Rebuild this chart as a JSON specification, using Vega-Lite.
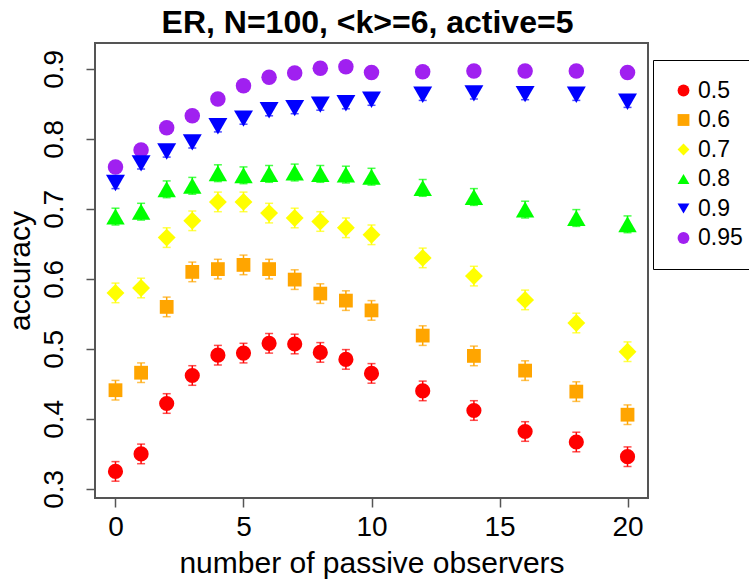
{
  "$schema": "https://vega.github.io/schema/vega-lite/v6.json",
  "autosize": "none",
  "width": 553,
  "height": 455,
  "padding": {"left": 95, "top": 43, "right": 101, "bottom": 81},
  "background": "white",
  "title": {
    "text": "ER, N=100, <k>=6, active=5",
    "fontSize": 32,
    "fontWeight": "bold",
    "font": "Liberation Sans",
    "color": "black",
    "anchor": "middle",
    "frame": "group",
    "baseline": "alphabetic",
    "offset": 10,
    "dx": -4,
    "dy": 32
  },
  "config": {
    "font": "Liberation Sans",
    "view": {"stroke": "#555555", "strokeWidth": 2},
    "axis": {
      "grid": false,
      "domain": false,
      "tickColor": "#555555",
      "tickWidth": 1.5,
      "tickSize": 9,
      "labelColor": "black",
      "titleColor": "black",
      "labelFont": "Liberation Sans",
      "titleFont": "Liberation Sans",
      "labelFontSize": 28,
      "titleFontSize": 30,
      "titleFontWeight": "normal"
    },
    "legend": {
      "labelFont": "Liberation Sans",
      "labelFontSize": 23,
      "labelColor": "black"
    }
  },
  "data": {
    "values": [
      {"x": 0, "p": "0.95", "acc": 0.760, "lo": 0.756, "hi": 0.764},
      {"x": 1, "p": "0.95", "acc": 0.784, "lo": 0.780, "hi": 0.788},
      {"x": 2, "p": "0.95", "acc": 0.816, "lo": 0.812, "hi": 0.820},
      {"x": 3, "p": "0.95", "acc": 0.833, "lo": 0.829, "hi": 0.837},
      {"x": 4, "p": "0.95", "acc": 0.857, "lo": 0.853, "hi": 0.861},
      {"x": 5, "p": "0.95", "acc": 0.876, "lo": 0.872, "hi": 0.880},
      {"x": 6, "p": "0.95", "acc": 0.888, "lo": 0.884, "hi": 0.892},
      {"x": 7, "p": "0.95", "acc": 0.894, "lo": 0.890, "hi": 0.898},
      {"x": 8, "p": "0.95", "acc": 0.901, "lo": 0.897, "hi": 0.905},
      {"x": 9, "p": "0.95", "acc": 0.903, "lo": 0.899, "hi": 0.907},
      {"x": 10, "p": "0.95", "acc": 0.895, "lo": 0.891, "hi": 0.899},
      {"x": 12, "p": "0.95", "acc": 0.896, "lo": 0.892, "hi": 0.900},
      {"x": 14, "p": "0.95", "acc": 0.897, "lo": 0.893, "hi": 0.901},
      {"x": 16, "p": "0.95", "acc": 0.897, "lo": 0.893, "hi": 0.901},
      {"x": 18, "p": "0.95", "acc": 0.897, "lo": 0.893, "hi": 0.901},
      {"x": 20, "p": "0.95", "acc": 0.895, "lo": 0.891, "hi": 0.899},

      {"x": 0, "p": "0.5", "acc": 0.325, "lo": 0.311, "hi": 0.339},
      {"x": 1, "p": "0.5", "acc": 0.350, "lo": 0.336, "hi": 0.364},
      {"x": 2, "p": "0.5", "acc": 0.422, "lo": 0.408, "hi": 0.436},
      {"x": 3, "p": "0.5", "acc": 0.462, "lo": 0.448, "hi": 0.476},
      {"x": 4, "p": "0.5", "acc": 0.491, "lo": 0.477, "hi": 0.505},
      {"x": 5, "p": "0.5", "acc": 0.494, "lo": 0.480, "hi": 0.508},
      {"x": 6, "p": "0.5", "acc": 0.508, "lo": 0.494, "hi": 0.522},
      {"x": 7, "p": "0.5", "acc": 0.507, "lo": 0.493, "hi": 0.521},
      {"x": 8, "p": "0.5", "acc": 0.495, "lo": 0.481, "hi": 0.509},
      {"x": 9, "p": "0.5", "acc": 0.485, "lo": 0.471, "hi": 0.499},
      {"x": 10, "p": "0.5", "acc": 0.465, "lo": 0.451, "hi": 0.479},
      {"x": 12, "p": "0.5", "acc": 0.440, "lo": 0.426, "hi": 0.454},
      {"x": 14, "p": "0.5", "acc": 0.412, "lo": 0.398, "hi": 0.426},
      {"x": 16, "p": "0.5", "acc": 0.382, "lo": 0.368, "hi": 0.396},
      {"x": 18, "p": "0.5", "acc": 0.367, "lo": 0.353, "hi": 0.381},
      {"x": 20, "p": "0.5", "acc": 0.346, "lo": 0.332, "hi": 0.360},

      {"x": 0, "p": "0.6", "acc": 0.441, "lo": 0.427, "hi": 0.455},
      {"x": 1, "p": "0.6", "acc": 0.466, "lo": 0.452, "hi": 0.480},
      {"x": 2, "p": "0.6", "acc": 0.560, "lo": 0.546, "hi": 0.574},
      {"x": 3, "p": "0.6", "acc": 0.610, "lo": 0.596, "hi": 0.624},
      {"x": 4, "p": "0.6", "acc": 0.614, "lo": 0.600, "hi": 0.628},
      {"x": 5, "p": "0.6", "acc": 0.620, "lo": 0.606, "hi": 0.634},
      {"x": 6, "p": "0.6", "acc": 0.614, "lo": 0.600, "hi": 0.628},
      {"x": 7, "p": "0.6", "acc": 0.599, "lo": 0.585, "hi": 0.613},
      {"x": 8, "p": "0.6", "acc": 0.579, "lo": 0.565, "hi": 0.593},
      {"x": 9, "p": "0.6", "acc": 0.569, "lo": 0.555, "hi": 0.583},
      {"x": 10, "p": "0.6", "acc": 0.555, "lo": 0.541, "hi": 0.569},
      {"x": 12, "p": "0.6", "acc": 0.519, "lo": 0.505, "hi": 0.533},
      {"x": 14, "p": "0.6", "acc": 0.490, "lo": 0.476, "hi": 0.504},
      {"x": 16, "p": "0.6", "acc": 0.469, "lo": 0.455, "hi": 0.483},
      {"x": 18, "p": "0.6", "acc": 0.439, "lo": 0.425, "hi": 0.453},
      {"x": 20, "p": "0.6", "acc": 0.406, "lo": 0.392, "hi": 0.420},

      {"x": 0, "p": "0.7", "acc": 0.580, "lo": 0.566, "hi": 0.594},
      {"x": 1, "p": "0.7", "acc": 0.587, "lo": 0.573, "hi": 0.601},
      {"x": 2, "p": "0.7", "acc": 0.659, "lo": 0.645, "hi": 0.673},
      {"x": 3, "p": "0.7", "acc": 0.683, "lo": 0.669, "hi": 0.697},
      {"x": 4, "p": "0.7", "acc": 0.710, "lo": 0.696, "hi": 0.724},
      {"x": 5, "p": "0.7", "acc": 0.710, "lo": 0.696, "hi": 0.724},
      {"x": 6, "p": "0.7", "acc": 0.694, "lo": 0.680, "hi": 0.708},
      {"x": 7, "p": "0.7", "acc": 0.687, "lo": 0.673, "hi": 0.701},
      {"x": 8, "p": "0.7", "acc": 0.682, "lo": 0.668, "hi": 0.696},
      {"x": 9, "p": "0.7", "acc": 0.673, "lo": 0.659, "hi": 0.687},
      {"x": 10, "p": "0.7", "acc": 0.663, "lo": 0.649, "hi": 0.677},
      {"x": 12, "p": "0.7", "acc": 0.630, "lo": 0.616, "hi": 0.644},
      {"x": 14, "p": "0.7", "acc": 0.604, "lo": 0.590, "hi": 0.618},
      {"x": 16, "p": "0.7", "acc": 0.570, "lo": 0.556, "hi": 0.584},
      {"x": 18, "p": "0.7", "acc": 0.537, "lo": 0.523, "hi": 0.551},
      {"x": 20, "p": "0.7", "acc": 0.496, "lo": 0.482, "hi": 0.510},

      {"x": 0, "p": "0.8", "acc": 0.689, "lo": 0.677, "hi": 0.701},
      {"x": 1, "p": "0.8", "acc": 0.696, "lo": 0.684, "hi": 0.708},
      {"x": 2, "p": "0.8", "acc": 0.728, "lo": 0.716, "hi": 0.740},
      {"x": 3, "p": "0.8", "acc": 0.733, "lo": 0.721, "hi": 0.745},
      {"x": 4, "p": "0.8", "acc": 0.751, "lo": 0.739, "hi": 0.763},
      {"x": 5, "p": "0.8", "acc": 0.748, "lo": 0.736, "hi": 0.760},
      {"x": 6, "p": "0.8", "acc": 0.750, "lo": 0.738, "hi": 0.762},
      {"x": 7, "p": "0.8", "acc": 0.752, "lo": 0.740, "hi": 0.764},
      {"x": 8, "p": "0.8", "acc": 0.750, "lo": 0.738, "hi": 0.762},
      {"x": 9, "p": "0.8", "acc": 0.749, "lo": 0.737, "hi": 0.761},
      {"x": 10, "p": "0.8", "acc": 0.746, "lo": 0.734, "hi": 0.758},
      {"x": 12, "p": "0.8", "acc": 0.730, "lo": 0.718, "hi": 0.742},
      {"x": 14, "p": "0.8", "acc": 0.717, "lo": 0.705, "hi": 0.729},
      {"x": 16, "p": "0.8", "acc": 0.699, "lo": 0.687, "hi": 0.711},
      {"x": 18, "p": "0.8", "acc": 0.687, "lo": 0.675, "hi": 0.699},
      {"x": 20, "p": "0.8", "acc": 0.678, "lo": 0.666, "hi": 0.690},

      {"x": 0, "p": "0.9", "acc": 0.737, "lo": 0.729, "hi": 0.745},
      {"x": 1, "p": "0.9", "acc": 0.765, "lo": 0.757, "hi": 0.773},
      {"x": 2, "p": "0.9", "acc": 0.782, "lo": 0.774, "hi": 0.790},
      {"x": 3, "p": "0.9", "acc": 0.795, "lo": 0.787, "hi": 0.803},
      {"x": 4, "p": "0.9", "acc": 0.818, "lo": 0.810, "hi": 0.826},
      {"x": 5, "p": "0.9", "acc": 0.829, "lo": 0.821, "hi": 0.837},
      {"x": 6, "p": "0.9", "acc": 0.841, "lo": 0.833, "hi": 0.849},
      {"x": 7, "p": "0.9", "acc": 0.844, "lo": 0.836, "hi": 0.852},
      {"x": 8, "p": "0.9", "acc": 0.849, "lo": 0.841, "hi": 0.857},
      {"x": 9, "p": "0.9", "acc": 0.851, "lo": 0.843, "hi": 0.859},
      {"x": 10, "p": "0.9", "acc": 0.856, "lo": 0.848, "hi": 0.864},
      {"x": 12, "p": "0.9", "acc": 0.863, "lo": 0.855, "hi": 0.871},
      {"x": 14, "p": "0.9", "acc": 0.865, "lo": 0.857, "hi": 0.873},
      {"x": 16, "p": "0.9", "acc": 0.864, "lo": 0.856, "hi": 0.872},
      {"x": 18, "p": "0.9", "acc": 0.863, "lo": 0.855, "hi": 0.871},
      {"x": 20, "p": "0.9", "acc": 0.853, "lo": 0.845, "hi": 0.861}
    ]
  },
  "encoding": {
    "x": {
      "field": "x",
      "type": "quantitative",
      "scale": {"domain": [-0.8, 20.8], "nice": false, "zero": false},
      "axis": {
        "values": [0, 5, 10, 15, 20],
        "title": "number of passive observers",
        "labelBaseline": "alphabetic",
        "labelPadding": 28,
        "labelFlush": false,
        "titleBaseline": "alphabetic",
        "titleY": 74
      }
    },
    "y": {
      "field": "acc",
      "type": "quantitative",
      "scale": {"domain": [0.287, 0.937], "nice": false, "zero": false},
      "axis": {
        "values": [0.3, 0.4, 0.5, 0.6, 0.7, 0.8, 0.9],
        "format": ".1f",
        "title": "accuracy",
        "labelAngle": -90,
        "labelAlign": "center",
        "labelBaseline": "alphabetic",
        "labelPadding": 24,
        "titleBaseline": "alphabetic",
        "titleAngle": -90,
        "titleX": -66
      }
    },
    "color": {
      "field": "p",
      "type": "nominal",
      "scale": {
        "domain": ["0.5", "0.6", "0.7", "0.8", "0.9", "0.95"],
        "range": ["#FF0000", "#FFA500", "#FFFF00", "#00FF00", "#0000FF", "#A020F0"]
      },
      "legend": {
        "title": null,
        "orient": "none",
        "legendX": 558,
        "legendY": 17,
        "padding": 19,
        "strokeColor": "black",
        "fillColor": "white",
        "symbolSize": 140,
        "symbolOpacity": 1,
        "symbolStrokeWidth": 0,
        "labelOffset": 3,
        "rowPadding": 5.5
      }
    },
    "shape": {
      "field": "p",
      "type": "nominal",
      "scale": {
        "domain": ["0.5", "0.6", "0.7", "0.8", "0.9", "0.95"],
        "range": ["circle", "square", "diamond", "triangle-up", "triangle-down", "circle"]
      }
    }
  },
  "layer": [
    {
      "mark": {"type": "rule", "strokeWidth": 1.5},
      "encoding": {
        "shape": null,
        "y": {"field": "lo", "type": "quantitative"},
        "y2": {"field": "hi"}
      }
    },
    {
      "mark": {"type": "tick", "orient": "horizontal", "size": 8, "thickness": 1.5},
      "encoding": {
        "shape": null,
        "y": {"field": "lo", "type": "quantitative"}
      }
    },
    {
      "mark": {"type": "tick", "orient": "horizontal", "size": 8, "thickness": 1.5},
      "encoding": {
        "shape": null,
        "y": {"field": "hi", "type": "quantitative"}
      }
    },
    {
      "transform": [{"filter": {"field": "p", "equal": "0.95"}}],
      "mark": {"type": "point", "filled": true, "opacity": 1, "size": 240}
    },
    {
      "transform": [{"filter": {"field": "p", "equal": "0.5"}}],
      "mark": {"type": "point", "filled": true, "opacity": 1, "size": 230}
    },
    {
      "transform": [{"filter": {"field": "p", "equal": "0.6"}}],
      "mark": {"type": "point", "filled": true, "opacity": 1, "size": 190}
    },
    {
      "transform": [{"filter": {"field": "p", "equal": "0.7"}}],
      "mark": {"type": "point", "filled": true, "opacity": 1, "size": 320}
    },
    {
      "transform": [{"filter": {"field": "p", "equal": "0.8"}}],
      "mark": {"type": "point", "filled": true, "opacity": 1, "size": 340}
    },
    {
      "transform": [{"filter": {"field": "p", "equal": "0.9"}}],
      "mark": {"type": "point", "filled": true, "opacity": 1, "size": 360}
    }
  ]
}
